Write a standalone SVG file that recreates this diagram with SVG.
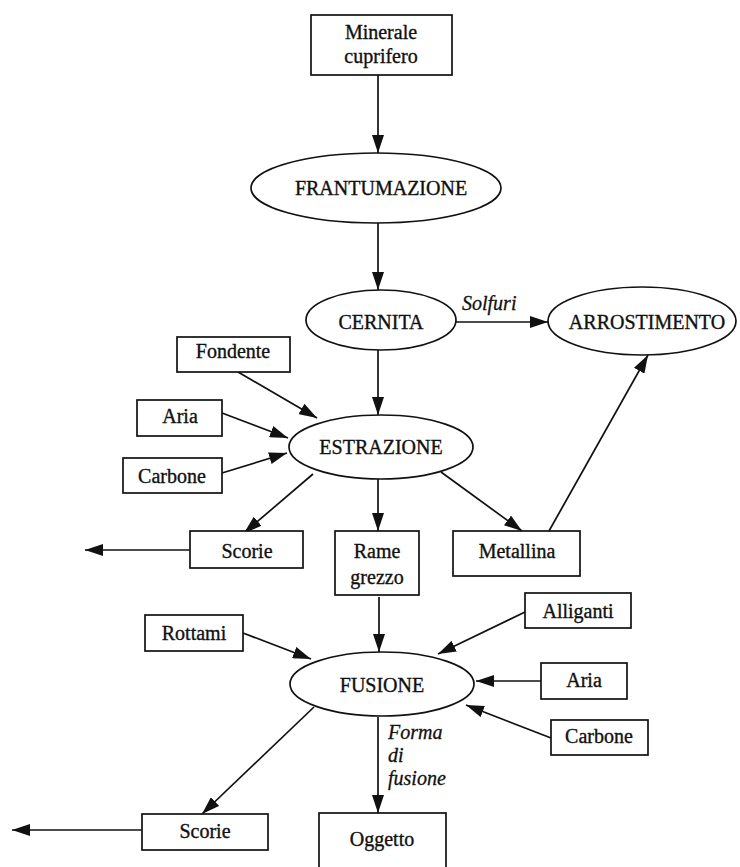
<svg xmlns="http://www.w3.org/2000/svg" width="740" height="867" viewBox="0 0 740 867">
<style>
.box{fill:#fff;stroke:#111;stroke-width:1.7}
.ell{fill:#fff;stroke:#111;stroke-width:1.7}
.t{font-family:"Liberation Serif","Times New Roman",serif;font-size:20px;fill:#111;stroke:#111;stroke-width:0.35;text-anchor:middle}
.i{font-family:"Liberation Serif","Times New Roman",serif;font-size:20px;fill:#111;stroke:#111;stroke-width:0.3;font-style:italic}
.c line{stroke:#111;stroke-width:1.7;marker-end:url(#ah)}
</style>
<defs>
<marker id="ah" viewBox="0 0 18 12" refX="18" refY="6" markerWidth="18" markerHeight="12" markerUnits="userSpaceOnUse" orient="auto">
<path d="M0,0 L18,6 L0,12 z" fill="#111"/>
</marker>
</defs>
<rect width="740" height="867" fill="#fff"/>
<g id="connectors" class="c">
<line x1="378" y1="75" x2="378" y2="153"/>
<line x1="378" y1="223" x2="378" y2="290"/>
<line x1="456" y1="322" x2="548" y2="322"/>
<line x1="378" y1="350" x2="378" y2="415"/>
<line x1="238" y1="372" x2="317" y2="418"/>
<line x1="222" y1="413" x2="288" y2="438"/>
<line x1="222" y1="473" x2="287" y2="453"/>
<line x1="313" y1="474" x2="244" y2="533"/>
<line x1="378" y1="479" x2="378" y2="531"/>
<line x1="441" y1="472" x2="522" y2="531"/>
<line x1="549" y1="531" x2="648" y2="355"/>
<line x1="190" y1="550" x2="85" y2="550"/>
<line x1="379" y1="597" x2="379" y2="652"/>
<line x1="243" y1="633" x2="311" y2="659"/>
<line x1="525" y1="612" x2="438" y2="654"/>
<line x1="541" y1="681" x2="476" y2="681"/>
<line x1="551" y1="738" x2="466" y2="705"/>
<line x1="314" y1="707" x2="202" y2="814"/>
<line x1="378" y1="717" x2="378" y2="813"/>
<line x1="142" y1="830" x2="12" y2="830"/>
<text class="i" x="462" y="310">Solfuri</text>
<text class="i" x="388" y="739">Forma</text>
<text class="i" x="388" y="762">di</text>
<text class="i" x="388" y="785">fusione</text>
</g>
<g id="minerale"><rect class="box" x="311" y="15" width="141" height="60"/><text class="t" x="381" y="39">Minerale</text><text class="t" x="381" y="63">cuprifero</text></g>
<g id="frantumazione"><ellipse class="ell" cx="376" cy="188" rx="125" ry="35"/><text class="t" x="381" y="195">FRANTUMAZIONE</text></g>
<g id="cernita"><ellipse class="ell" cx="381" cy="320" rx="75" ry="30"/><text class="t" x="381" y="329">CERNITA</text></g>
<g id="arrostimento"><ellipse class="ell" cx="642" cy="321" rx="94" ry="34"/><text class="t" x="647" y="329">ARROSTIMENTO</text></g>
<g id="fondente"><rect class="box" x="177" y="337" width="113" height="35"/><text class="t" x="233" y="358">Fondente</text></g>
<g id="aria1"><rect class="box" x="137" y="400" width="85" height="36"/><text class="t" x="180" y="423">Aria</text></g>
<g id="carbone1"><rect class="box" x="123" y="458" width="99" height="35"/><text class="t" x="172" y="483">Carbone</text></g>
<g id="estrazione"><ellipse class="ell" cx="381" cy="447" rx="92" ry="32"/><text class="t" x="381" y="454">ESTRAZIONE</text></g>
<g id="scorie1"><rect class="box" x="190" y="531" width="113" height="37"/><text class="t" x="247" y="558">Scorie</text></g>
<g id="rame"><rect class="box" x="335" y="531" width="84" height="64"/><text class="t" x="377" y="558">Rame</text><text class="t" x="377" y="584">grezzo</text></g>
<g id="metallina"><rect class="box" x="453" y="531" width="127" height="45"/><text class="t" x="517" y="558">Metallina</text></g>
<g id="rottami"><rect class="box" x="145" y="615" width="98" height="36"/><text class="t" x="194" y="640">Rottami</text></g>
<g id="alliganti"><rect class="box" x="525" y="593" width="106" height="35"/><text class="t" x="578" y="618">Alliganti</text></g>
<g id="fusione"><ellipse class="ell" cx="382" cy="684" rx="92" ry="32"/><text class="t" x="382" y="692">FUSIONE</text></g>
<g id="aria2"><rect class="box" x="541" y="663" width="86" height="36"/><text class="t" x="584" y="687">Aria</text></g>
<g id="carbone2"><rect class="box" x="551" y="720" width="97" height="35"/><text class="t" x="599" y="743">Carbone</text></g>
<g id="scorie2"><rect class="box" x="142" y="814" width="126" height="36"/><text class="t" x="205" y="838">Scorie</text></g>
<g id="oggetto"><rect class="box" x="319" y="813" width="127" height="60"/><text class="t" x="382" y="846">Oggetto</text></g>
</svg>
